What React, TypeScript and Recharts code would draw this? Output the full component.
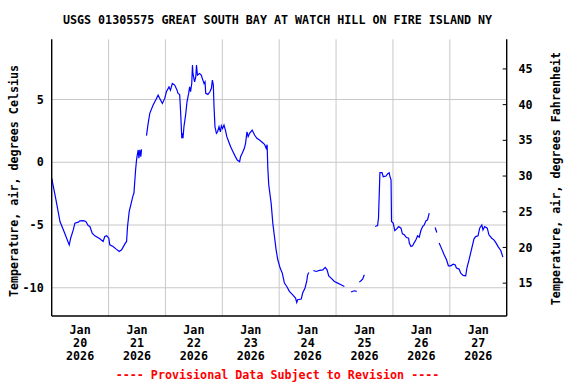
import { LineChart, Line, XAxis, YAxis, CartesianGrid } from 'recharts';

// Hours since Jan 20 2026 00:00 and air temperature (deg C); null marks a gap in the record
const hours = [
  0.0, 1.8, 3.5, 5.2, 7.4, 8.0, 9.1, 9.8, 11.2, 11.9, 13.3, 14.4, 15.4, 16.1, 17.1, 18.2,
  20.3, 21.7, 22.4, 23.2, 24.1, 24.5, 25.9, 27.1, 28.5, 29.5, 30.9, 31.6, 32.0, 32.7, 33.7,
  34.4, 34.7, 35.4, 35.8, 36.0, 36.5, 36.8, 37.2, 37.6, 37.9,
  39.0,
  40.0, 40.7, 41.4, 42.8, 43.9, 44.9, 45.6, 46.7, 47.7, 48.4, 49.5, 50.1, 50.9, 51.9, 52.9,
  53.3, 54.0, 54.4, 54.9, 55.2, 55.4, 55.8, 56.5, 57.1, 57.8, 58.2, 58.6, 59.1, 59.4, 59.6,
  60.3, 60.8, 61.1, 61.5, 62.4, 63.1, 63.8, 64.3, 64.7, 65.0, 65.9, 66.7, 67.4, 67.8, 68.2,
  68.5, 68.9, 69.5, 70.0, 70.6, 71.2, 71.6, 72.1, 72.7, 73.3, 73.9, 74.7, 75.5, 76.5, 77.5,
  78.3, 79.3, 79.7, 80.4, 81.3, 81.8, 82.4, 82.9, 83.5, 84.6, 85.6, 86.6, 87.7, 88.8, 89.8,
  90.5, 90.9, 91.2, 91.6, 92.6, 93.3, 94.0, 94.7, 95.4, 96.4, 97.3, 98.2, 99.2, 100.3, 101.7,
  102.9, 103.4, 103.8, 105.3, 105.9, 106.9, 107.6, 108.0, 108.5,
  109.5,
  110.4, 111.6, 113.0, 114.4, 115.4, 116.2, 116.9, 117.9, 119.3, 120.7, 122.1, 123.5,
  125.0,
  126.3, 127.7, 128.7,
  129.3,
  129.8, 130.5, 131.2, 131.9,
  134.0,
  136.5, 137.5, 137.9, 138.5, 139.4, 139.9, 141.1, 141.7, 142.4, 142.7, 143.2, 143.4, 144.1,
  144.8, 145.5, 146.4, 147.4, 148.0, 148.8, 149.7, 150.6, 150.9, 151.6, 152.3, 153.0, 153.7,
  154.4, 155.1, 155.8, 156.5, 157.2, 157.9, 158.6, 159.3,
  160.5,
  161.8, 162.5,
  163.0,
  163.5, 164.6, 165.6, 166.6, 167.4, 168.4, 169.4, 170.2, 170.8, 171.9, 172.6, 173.6, 174.7,
  175.2, 176.1, 177.1, 178.2, 178.9, 179.9, 180.6, 181.5, 182.0, 182.7, 183.8, 184.5, 185.7,
  186.6, 187.4, 188.5, 189.5, 190.4,
];

const tempC = [
  -1.27, -3.0, -4.72, -5.52, -6.58, -6.05, -5.39, -4.85, -4.77, -4.67, -4.65, -4.72, -5.04, -5.12, -5.65, -5.86,
  -6.1, -6.31, -5.92, -5.86, -6.05, -6.58, -6.71, -6.9, -7.11, -6.98, -6.5, -6.31, -5.12, -3.93, -3.13,
  -2.6, -2.47, -0.61, 0.18, 0.45, 0.98, 0.32, 1.0, 0.45, 1.03,
  null,
  2.12, 3.1, 3.9, 4.56, 4.96, 5.35, 5.09, 4.69, 5.09, 5.62, 6.01, 5.75, 6.28, 6.15, 5.75,
  5.49, 5.4, 4.03, 1.91, 2.31, 1.91, 2.83, 3.76, 4.82, 5.49, 6.01, 5.62, 6.28, 7.74, 7.08,
  6.41, 6.8, 7.74, 6.95, 7.08, 6.95, 6.55, 6.28, 6.41, 5.49, 5.41, 5.6, 5.89, 6.55, 6.15,
  4.42, 2.83, 2.31, 2.43, 2.83, 2.43, 2.91, 2.7, 2.97, 2.57, 2.04, 1.64, 1.24, 0.84, 0.45,
  0.18, 0.05, 0.45, 0.72, 1.11, 1.51, 2.43, 2.04, 2.31, 2.57, 2.17, 1.91, 1.77, 1.59, 1.43,
  1.11, 1.4, -0.48, -1.81, -3.26, -4.85, -5.92, -6.98, -7.77, -8.43, -8.83, -9.63, -9.9, -10.29, -10.56,
  -10.82, -11.17, -10.95, -10.9, -10.42, -10.02, -9.5, -8.97, -8.78,
  null,
  -8.62, -8.7, -8.62, -8.57, -8.38, -8.57, -9.05, -9.23, -9.5, -9.63, -9.76, -9.9,
  null,
  -10.34, -10.24, -10.29,
  null,
  -9.55, -9.44, -9.31, -8.97,
  null,
  -5.12, -5.04, -4.46, -0.83, -0.83, -1.15, -1.1, -0.93, -0.83, -1.1, -1.41, -4.72, -4.85,
  -5.44, -5.33, -5.12, -5.25, -5.7, -5.78, -6.0, -6.05, -6.44, -6.71, -6.66, -6.4, -6.18,
  -5.86, -5.97, -5.44, -5.12, -4.99, -4.67, -4.59, -4.06,
  null,
  -5.2, -5.6,
  null,
  -6.44, -6.92, -7.37, -7.77, -8.25, -8.25, -8.12, -8.17, -8.43, -8.51, -8.83, -9.02, -9.05,
  -8.43, -7.77, -6.98, -6.1, -5.92, -5.86, -5.25, -4.99, -5.39, -5.12, -5.25, -5.78, -6.05,
  -6.18, -6.4, -6.76, -7.03, -7.56,
];

// Tick positions (hours) and labels
const dayTicks = [12, 36, 60, 84, 108, 132, 156, 180];
const dayLabels = ['20', '21', '22', '23', '24', '25', '26', '27'];
const midnightTicks = [24, 48, 72, 96, 120, 144, 168];
const celsiusTicks = [-10, -5, 0, 5];
const fahrenheitTicks = [15, 20, 25, 30, 35, 40, 45];

const data = hours.map((h, i) => ({ h, c: tempC[i] }));

const FONT = '"DejaVu Sans Mono", monospace';
const tickStyle = { fontFamily: FONT, fontSize: 11.7, fontWeight: 'bold', fill: '#000' };

const DayTick = ({ x, y, payload }: any) => {
  const label = dayLabels[dayTicks.indexOf(payload.value)];
  return (
    <g>
      <text x={x} y={y + 10} textAnchor="middle" style={tickStyle}>Jan</text>
      <text x={x} y={y + 23} textAnchor="middle" style={tickStyle}>{label}</text>
      <text x={x} y={y + 36} textAnchor="middle" style={tickStyle}>2026</text>
    </g>
  );
};

export default function App() {
  return (
    <div style={{ position: 'absolute', left: 0, top: 0, width: 576, height: 384, background: '#fff' }}>
      <LineChart
        width={576}
        height={384}
        data={data}
        margin={{ top: 39.3, right: 9.3, bottom: 8, left: 6.7 }}
      >
        <CartesianGrid
          yAxisId="c"
          stroke="#c8c8c8"
          strokeWidth={1}
          verticalValues={midnightTicks}
          horizontalValues={celsiusTicks}
        />
        <XAxis
          xAxisId="top"
          orientation="top"
          type="number"
          domain={[0, 192]}
          height={0}
          tick={false}
          tickLine={false}
          axisLine={{ stroke: '#000', strokeWidth: 1.4 }}
          allowDataOverflow
        />
        <XAxis
          dataKey="h"
          type="number"
          domain={[0, 192]}
          ticks={dayTicks}
          height={60}
          tick={<DayTick />}
          tickLine={false}
          axisLine={{ stroke: '#000', strokeWidth: 1.4 }}
          allowDataOverflow
        />
        <YAxis
          yAxisId="c"
          type="number"
          domain={[-12.25, 9.8]}
          ticks={celsiusTicks}
          width={45}
          tick={tickStyle}
          tickLine={false}
          axisLine={{ stroke: '#000', strokeWidth: 1.4 }}
          allowDataOverflow
        />
        <YAxis
          yAxisId="f"
          orientation="right"
          type="number"
          domain={[10.4, 49.15]}
          ticks={fahrenheitTicks}
          width={60}
          tick={tickStyle}
          tickSize={-4}
          tickMargin={15.8}
          stroke="#000"
          axisLine={{ stroke: '#000', strokeWidth: 1.4 }}
          allowDataOverflow
        />
        <Line
          yAxisId="c"
          type="linear"
          dataKey="c"
          stroke="#0000ff"
          strokeWidth={1.2}
          dot={false}
          activeDot={false}
          connectNulls={false}
          isAnimationActive={false}
        />
      </LineChart>
      <svg width={576} height={384} style={{ position: 'absolute', left: 0, top: 0, pointerEvents: 'none' }}>
        <text x={277.5} y={24} textAnchor="middle" style={tickStyle}>
          USGS 01305575 GREAT SOUTH BAY AT WATCH HILL ON FIRE ISLAND NY
        </text>
        <text x={277.5} y={379} textAnchor="middle" style={{ ...tickStyle, fill: '#ff0000' }}>
          ---- Provisional Data Subject to Revision ----
        </text>
        <text x={17.5} y={181} transform="rotate(-90 17.5 181)" textAnchor="middle" style={tickStyle}>
          Temperature, air, degrees Celsius
        </text>
        <text x={560} y={178.5} transform="rotate(-90 560 178.5)" textAnchor="middle" style={tickStyle}>
          Temperature, air, degrees Fahrenheit
        </text>
      </svg>
    </div>
  );
}
